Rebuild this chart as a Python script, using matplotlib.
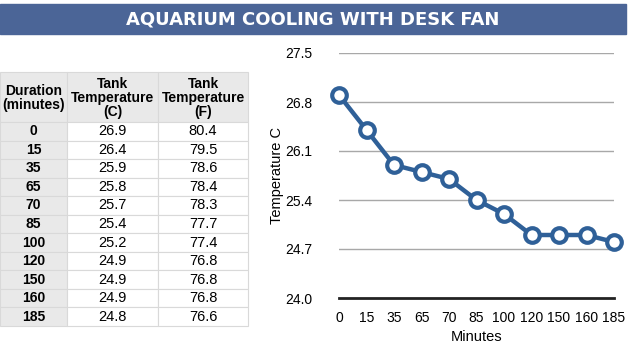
from matplotlib import pyplot as plt
from matplotlib.patches import Rectangle

minutes = [0, 15, 35, 65, 70, 85, 100, 120, 150, 160, 185]
temp_c = [26.9, 26.4, 25.9, 25.8, 25.7, 25.4, 25.2, 24.9, 24.9, 24.9, 24.8]
temp_f = [80.4, 79.5, 78.6, 78.4, 78.3, 77.7, 77.4, 76.8, 76.8, 76.8, 76.6]
headers = ["Duration\n(minutes)", "Tank\nTemperature\n(C)", "Tank\nTemperature\n(F)"]
y_ticks = [24.0, 24.7, 25.4, 26.1, 26.8, 27.5]

plt.rcParams['font.family'] = ['Liberation Sans', 'DejaVu Sans']

fig = plt.figure(figsize=(6.37, 3.51), dpi=100)

# background axes in pixel units for banner + table
bg = fig.add_axes([0, 0, 1, 1])
bg.set_xlim(0, 637)
bg.set_ylim(351, 0)
bg.axis("off")

bg.add_patch(Rectangle((0, 4), 626, 30, color="#4b6597"))
bg.text(313, 19.5, "AQUARIUM COOLING WITH DESK FAN", color="white", fontsize=13,
        fontweight="bold", ha="center", va="center", family="DejaVu Sans")

# table
col_x = [0, 67, 158, 248]
head_top, head_bot = 72, 122
row_h = (326 - head_bot) / len(minutes)
border = "#d9d9d9"

for c in range(3):
    bg.add_patch(Rectangle((col_x[c], head_top), col_x[c + 1] - col_x[c], head_bot - head_top,
                           facecolor="#e9e9e9", edgecolor=border, lw=0.8))
    bg.text((col_x[c] + col_x[c + 1]) / 2, (head_top + head_bot) / 2 + 1, headers[c],
            ha="center", va="center", fontsize=10, fontweight="bold", linespacing=1.0)

for i, (m, c, f) in enumerate(zip(minutes, temp_c, temp_f)):
    y0 = head_bot + i * row_h
    yc = y0 + row_h / 2
    bg.add_patch(Rectangle((col_x[0], y0), col_x[1] - col_x[0], row_h,
                           facecolor="#e9e9e9", edgecolor=border, lw=0.8))
    for k in (1, 2):
        bg.add_patch(Rectangle((col_x[k], y0), col_x[k + 1] - col_x[k], row_h,
                               facecolor="white", edgecolor=border, lw=0.8))
    bg.text(33.5, yc, str(m), ha="center", va="center", fontsize=10, fontweight="bold")
    bg.text(112.5, yc, "{:.1f}".format(c), ha="center", va="center", fontsize=10.5)
    bg.text(203, yc, "{:.1f}".format(f), ha="center", va="center", fontsize=10.5)

# line chart
ax = fig.add_axes([339 / 637, 1 - 298 / 351, (614 - 339) / 637, (298 - 53) / 351])
x = range(len(minutes))
ax.plot(x, temp_c, color="#2f6098", lw=3.2, marker="o", markersize=10.5,
        markerfacecolor="white", markeredgecolor="#2f6098", markeredgewidth=3,
        clip_on=False, zorder=3)
ax.set_xlim(0, len(minutes) - 1)
ax.set_ylim(24.0, 27.5)
ax.set_yticks(y_ticks)
ax.set_yticklabels(["{:.1f}".format(v) for v in y_ticks], fontsize=10)
ax.set_xticks(list(x))
ax.set_xticklabels([str(m) for m in minutes], fontsize=10)
ax.tick_params(axis="x", length=0, pad=9)
ax.tick_params(axis="y", length=0, pad=19)
for v in y_ticks[1:]:
    ax.axhline(v, color="#a8a8a8", lw=1, zorder=1)
ax.axhline(24.0, color="#222222", lw=2, zorder=2, clip_on=False)
for s in ax.spines.values():
    s.set_visible(False)
ax.set_xlabel("Minutes", fontsize=10.5, labelpad=4)
ax.set_ylabel("Temperature C", fontsize=10.5)
ax.yaxis.set_label_coords(-0.2, 0.5)

plt.savefig("out.png", dpi=100)
